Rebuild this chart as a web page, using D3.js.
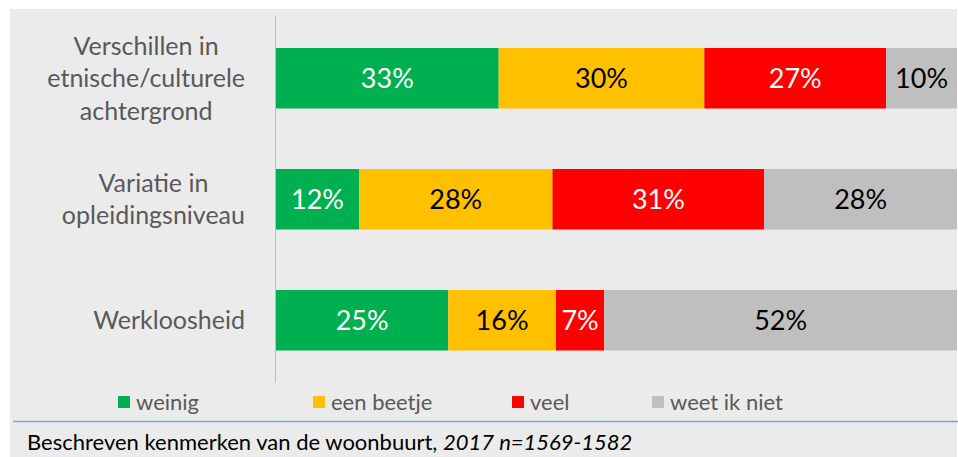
<!DOCTYPE html>
<html>
<head>
<meta charset="utf-8">
<script src="https://cdn.jsdelivr.net/npm/d3@7"></script>
<style>
  body { margin: 0; background: #fff; }
  svg text { font-family: Lato, "Open Sans", sans-serif; }
</style>
</head>
<body>
<svg id="chart" width="958" height="457"></svg>
<script>
// rows (top to bottom) and answer categories
var categories = [
  ["Verschillen in", "etnische/culturele", "achtergrond"],
  ["Variatie in", "opleidingsniveau"],
  ["Werkloosheid"]
];
var answers = ["weinig", "een beetje", "veel", "weet ik niet"];
var colors = ["#00B050", "#FFC000", "#FF0000", "#BFBFBF"];
var labelColors = ["#fff", "#000", "#fff", "#000"];

// percentages per row
var weinig = [32.7, 12.2, 25.3];
var eenBeetje = [30.2, 28.4, 15.8];
var veel = [26.7, 31.1, 7.1];
var weetNiet = [10.4, 28.3, 51.8];

var series = [weinig, eenBeetje, veel, weetNiet];

var svg = d3.select("#chart");
var w = 958, h = 457;
var margin = {top: 16, right: 1, bottom: 74, left: 276};

// grey panel
svg.append("rect")
   .attr("x", 10).attr("y", 9)
   .attr("width", w - 11).attr("height", h - 9)
   .attr("fill", "#EBEBEB");

// x scale
var x_scale = d3.scaleLinear()
    .domain([0, 100])
    .range([margin.left, w - margin.right]);

// y scale
var y_scale = d3.scaleBand()
    .domain(d3.range(categories.length))
    .range([17.75, 380.75])
    .paddingInner(0.5)
    .paddingOuter(0.25);

// stack the data
var rows = categories.map(function(c, i) {
  var o = {row: i};
  answers.forEach(function(a, j) { o[a] = series[j][i]; });
  return o;
});
var stacked = d3.stack().keys(answers)(rows);

var format = function(d) { return Math.round(d) + "%"; };

stacked.forEach(function(layer, j) {
  var g = svg.append("g");
  g.selectAll("rect")
   .data(layer)
   .enter()
   .append("rect")
   .attr("x", function(d) { return x_scale(d[0]); })
   .attr("y", function(d) { return y_scale(d.data.row); })
   .attr("width", function(d) { return x_scale(d[1]) - x_scale(d[0]); })
   .attr("height", y_scale.bandwidth())
   .attr("fill", colors[j]);

  g.selectAll("text")
   .data(layer)
   .enter()
   .append("text")
   .attr("x", function(d) { return (x_scale(d[0]) + x_scale(d[1])) / 2; })
   .attr("y", function(d) { return y_scale(d.data.row) + y_scale.bandwidth() / 2; })
   .attr("dy", "0.36em")
   .attr("text-anchor", "middle")
   .attr("font-size", 27)
   .attr("fill", labelColors[j])
   .text(function(d) { return format(d[1] - d[0]); });
});

// y axis line
svg.append("line")
   .attr("x1", margin.left - 0.5).attr("x2", margin.left - 0.5)
   .attr("y1", margin.top).attr("y2", 383)
   .attr("stroke", "#BFBFBF");

// category labels: block right aligned, lines centred within the block
var labelRight = 245;
categories.forEach(function(lines, i) {
  var cy = y_scale(i) + y_scale.bandwidth() / 2;
  var lh = 32.5;
  var t = svg.append("text")
     .attr("text-anchor", "middle")
     .attr("font-size", 25)
     .attr("fill", "#595959");
  var spans = lines.map(function(l, k) {
    return t.append("tspan")
     .attr("y", cy + (k - (lines.length - 1) / 2) * lh)
     .attr("dy", "0.35em")
     .text(l);
  });
  var maxW = d3.max(spans, function(s) { return s.node().getComputedTextLength(); });
  spans.forEach(function(s) { s.attr("x", labelRight - maxW / 2); });
});

// legend
var legendX = [118, 313, 512, 652];
var legend = svg.append("g");
answers.forEach(function(a, j) {
  legend.append("rect")
     .attr("x", legendX[j]).attr("y", 396)
     .attr("width", 12).attr("height", 12)
     .attr("fill", colors[j]);
  legend.append("text")
     .attr("x", legendX[j] + 18).attr("y", 402)
     .attr("dy", "0.35em")
     .attr("font-size", 22)
     .attr("fill", "#595959")
     .text(a);
});

// separator line
svg.append("line")
   .attr("x1", 13).attr("x2", w)
   .attr("y1", 421.5).attr("y2", 421.5)
   .attr("stroke", "#7FA7D6")
   .attr("stroke-width", 1.5);

// caption
var cap = svg.append("text")
   .attr("x", 27).attr("y", 450)
   .attr("font-size", 22)
   .attr("fill", "#000");
cap.append("tspan").text("Beschreven kenmerken van de woonbuurt, ");
cap.append("tspan").attr("font-style", "italic").text("2017 n=1569-1582");
</script>
</body>
</html>
